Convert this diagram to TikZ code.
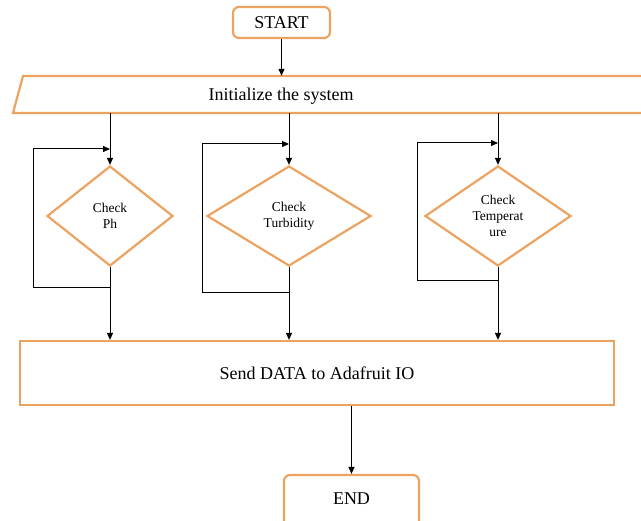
\documentclass[tikz,border=0pt]{standalone}
\usepackage{fontspec}
\setmainfont{Liberation Serif}
\usetikzlibrary{shapes.geometric,arrows.meta}
\definecolor{obord}{RGB}{236,163,96}
\begin{document}
\begin{tikzpicture}[x=1pt,y=-1pt,
  box/.style={draw=obord,line width=2.2pt,fill=white,inner sep=0pt,font=\fontsize{18}{21}\selectfont},
  term/.style={box,rounded corners=6pt},
  dia/.style={draw=obord,line width=2.2pt,fill=white,diamond,inner sep=0pt,align=center,font=\fontsize{13.5}{16}\selectfont},
  arr/.style={line width=1pt,-{Triangle[length=7pt,width=6pt]}},
  ln/.style={line width=1pt}]
\clip (0,0) rectangle (641,521);
\useasboundingbox (0,0) rectangle (641,521);

% START
\node[term,minimum width=97pt,minimum height=31pt] (start) at (281.5,22.5) {START};

% Initialize parallelogram
\draw[draw=obord,line width=2.2pt,fill=white] (23,76) -- (670,76) -- (660,113) -- (13,113) -- cycle;
\node[inner sep=0pt,minimum width=600pt,minimum height=37pt,font=\fontsize{18}{21}\selectfont] (init) at (330,94.5) {};
\node[font=\fontsize{18}{21}\selectfont,inner sep=0pt] (inittext) at (281,96) {Initialize the system};

% Diamonds
\node[dia,minimum width=126pt,minimum height=100pt] (ph) at (110,216) {Check\\Ph};
\node[dia,minimum width=164pt,minimum height=100pt] (tu) at (289,216) {Check\\Turbidity};
\node[dia,minimum width=146pt,minimum height=100pt] (te) at (498,216) {Check\\Temperat\\ure};

% Send box
\node[box,minimum width=594pt,minimum height=64pt] (send) at (317,373) {Send DATA to Adafruit IO};

% END
\node[term,minimum width=135pt,minimum height=52pt] (end) at (351.5,501) {};
\node[font=\fontsize{18}{21}\selectfont,inner sep=0pt] (endtext) at (351.5,499) {END};

% connectors
\draw[arr] (start.south) -- (start.south |- init.north);
\draw[arr] (init.south -| ph.north) -- (ph.north);
\draw[arr] (init.south -| tu.north) -- (tu.north);
\draw[arr] (init.south -| te.north) -- (te.north);
\draw[arr] (ph.south) -- (ph.south |- send.north);
\draw[arr] (tu.south) -- (tu.south |- send.north);
\draw[arr] (te.south) -- (te.south |- send.north);
\draw[arr] (send.south -| end.north) -- (end.north);

% loops
\coordinate (phb) at (110,288);
\coordinate (pht) at (110,149);
\coordinate (phl) at (33,288);
\draw[arr] (phb) -- (phl) |- (pht);

\coordinate (tub) at (289,293);
\coordinate (tut) at (289,144);
\coordinate (tul) at (202,293);
\draw[arr] (tub) -- (tul) |- (tut);

\coordinate (teb) at (498,281);
\coordinate (tet) at (498,143);
\coordinate (tel) at (417,281);
\draw[arr] (teb) -- (tel) |- (tet);
\end{tikzpicture}
\end{document}
